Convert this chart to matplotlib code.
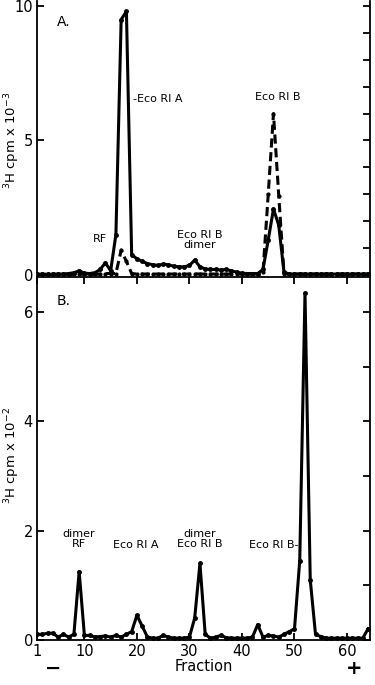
import numpy as np
import matplotlib
matplotlib.use("Agg")
import matplotlib.pyplot as plt

# fractions 1..64
fraction = list(range(1, 65))

# panel A, solid curve (3H cpm x 10^-3)
a_solid = [0.02, 0.02, 0.02, 0.02, 0.03, 0.03, 0.05, 0.08, 0.15, 0.06,
           0.05, 0.08, 0.2, 0.45, 0.15, 1.5, 9.5, 9.8, 0.75, 0.6,
           0.5, 0.42, 0.38, 0.35, 0.4, 0.38, 0.32, 0.3, 0.3, 0.35,
           0.55, 0.3, 0.22, 0.2, 0.2, 0.18, 0.2, 0.15, 0.1, 0.06,
           0.05, 0.05, 0.05, 0.2, 1.3, 2.45, 1.85, 0.1, 0.03, 0.03,
           0.03, 0.03, 0.03, 0.03, 0.03, 0.03, 0.03, 0.03, 0.03, 0.03,
           0.03, 0.03, 0.03, 0.03]
# panel A, dashed curve
a_dashed = [0.02, 0.02, 0.02, 0.02, 0.02, 0.02, 0.02, 0.02, 0.03, 0.02,
            0.02, 0.02, 0.03, 0.05, 0.05, 0.05, 0.92, 0.5, 0.05, 0.03,
            0.03, 0.03, 0.03, 0.03, 0.03, 0.03, 0.03, 0.03, 0.03, 0.03,
            0.04, 0.03, 0.03, 0.03, 0.03, 0.03, 0.03, 0.03, 0.03, 0.03,
            0.03, 0.03, 0.03, 0.1, 3.0, 6.0, 2.95, 0.05, 0.03, 0.03,
            0.03, 0.03, 0.03, 0.03, 0.03, 0.03, 0.03, 0.03, 0.03, 0.03,
            0.03, 0.03, 0.03, 0.03]
# panel B (3H cpm x 10^-2)
b_cpm = [0.1, 0.1, 0.12, 0.12, 0.05, 0.1, 0.05, 0.1, 1.25, 0.08,
         0.08, 0.05, 0.06, 0.07, 0.05, 0.08, 0.05, 0.1, 0.15, 0.45,
         0.25, 0.05, 0.03, 0.03, 0.08, 0.05, 0.03, 0.03, 0.03, 0.05,
         0.4, 1.4, 0.1, 0.03, 0.05, 0.08, 0.04, 0.03, 0.03, 0.03,
         0.03, 0.05, 0.28, 0.05, 0.08, 0.07, 0.05, 0.1, 0.15, 0.2,
         1.45, 6.35, 1.1, 0.1, 0.06, 0.03, 0.03, 0.03, 0.03, 0.03,
         0.03, 0.03, 0.03, 0.2]

xticks_b = [1, 10, 20, 30, 40, 50, 60]

plt.rcParams['font.family'] = ['DejaVu Sans']

fig = plt.figure(figsize=(3.75, 6.85), dpi=100)
ax1 = fig.add_axes([0.099, 0.596, 0.888, 0.403])
ax2 = fig.add_axes([0.099, 0.066, 0.888, 0.530])

lw = 2.2
ax1.plot(fraction, a_solid, color='black', lw=lw, marker='o', ms=2.5)
ax1.plot(fraction, a_dashed, color='black', lw=lw, ls=(0, (3, 1.5)),
         marker='o', ms=2)
ax2.plot(fraction, b_cpm, color='black', lw=lw, marker='o', ms=2.5)

for ax in (ax1, ax2):
    ax.set_xlim(1, 64.4)
    for s in ax.spines.values():
        s.set_linewidth(1.3)
    ax.tick_params(axis='y', which='both', direction='in', right=True,
                   labelsize=10.5, pad=3)
    ax.tick_params(axis='y', which='major', length=5, width=1.3)
    ax.tick_params(axis='y', which='minor', length=5, width=1.3, left=False)

# top panel
ax1.set_ylim(-0.07, 10.2)
ax1.set_yticks([0, 5, 10])
ax1.set_yticks([1, 2, 3, 4, 6, 7, 8, 9], minor=True)
ax1.set_xticks([])
ax1.spines['bottom'].set_visible(False)
ax1.spines['top'].set_visible(False)

# bottom panel
ax2.set_ylim(0, 6.65)
ax2.set_yticks([0, 2, 4, 6])
ax2.set_yticks([1, 3, 5], minor=True)
ax2.set_xticks(xticks_b)
ax2.tick_params(axis='x', direction='in', top=True, length=5, width=1.3,
                labelsize=10.5, pad=3)
ax2.set_xlabel('Fraction', fontsize=10.5, labelpad=0)

fig.text(12 / 375, 1 - 140 / 685, r'$^3$H cpm x 10$^{-3}$', fontsize=9.5,
         rotation=90, ha='center', va='center')
fig.text(12 / 375, 1 - 455 / 685, r'$^3$H cpm x 10$^{-2}$', fontsize=9.5,
         rotation=90, ha='center', va='center')

fs = 8
ax1.text(6, 9.4, 'A.', fontsize=10, ha='center', va='center')
ax1.text(19.3, 6.55, '-Eco RI A', fontsize=fs, ha='left', va='center')
ax1.text(46.9, 6.6, 'Eco RI B', fontsize=fs, ha='center', va='center')
ax1.text(13, 1.35, 'RF', fontsize=fs, ha='center', va='center')
ax1.text(32, 1.3, 'Eco RI B\ndimer', fontsize=fs, ha='center', va='center',
         linespacing=0.95)

ax2.text(6, 6.2, 'B.', fontsize=10, ha='center', va='center')
ax2.text(9, 1.85, 'dimer\nRF', fontsize=fs, ha='center', va='center',
         linespacing=0.95)
ax2.text(19.7, 1.73, 'Eco RI A', fontsize=fs, ha='center', va='center')
ax2.text(31.9, 1.85, 'dimer\nEco RI B', fontsize=fs, ha='center', va='center',
         linespacing=0.95)
ax2.text(50.8, 1.73, 'Eco RI B-', fontsize=fs, ha='right', va='center')

fig.text(53 / 375, 1 - 668 / 685, '\u2212', fontsize=14, ha='center',
         va='center', fontweight='bold')
fig.text(354 / 375, 1 - 669 / 685, '+', fontsize=14, ha='center',
         va='center', fontweight='bold')

fig.savefig('out.png', dpi=100)
